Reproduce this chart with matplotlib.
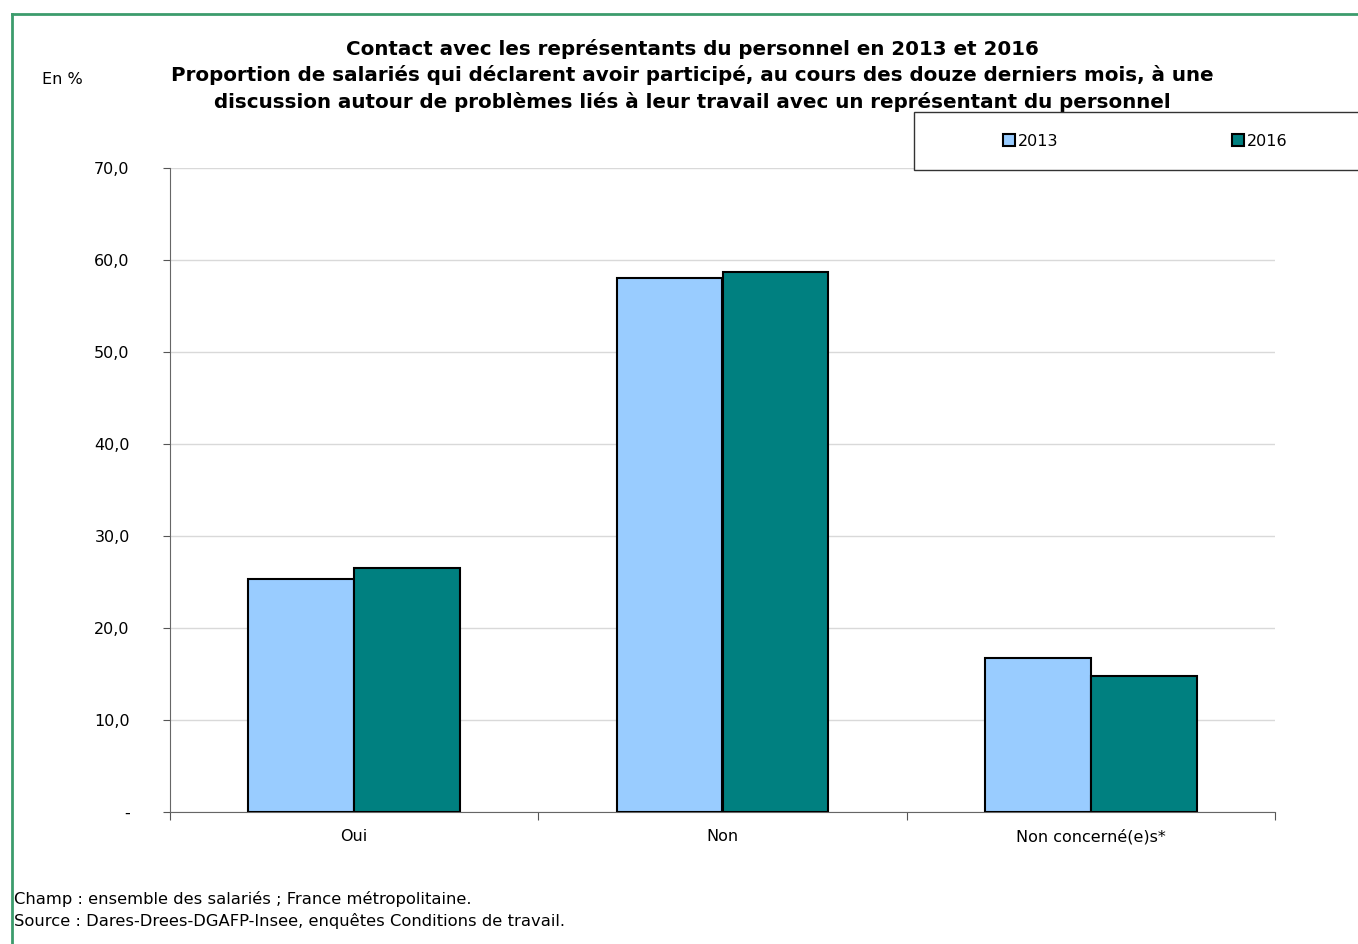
import numpy as np
import matplotlib
matplotlib.use("Agg")
import matplotlib.pyplot as plt
from matplotlib.patches import Rectangle
from matplotlib.lines import Line2D

categories = ["Oui", "Non", "Non concerné(e)s*"]
years = ["2013", "2016"]
values_2013 = [25.3, 58.0, 16.7]
values_2016 = [26.5, 58.7, 14.8]
colors = ["#99ccff", "#008080"]
y_ticks = [0, 10, 20, 30, 40, 50, 60, 70]
y_labels = ["-", "10,0", "20,0", "30,0", "40,0", "50,0", "60,0", "70,0"]

title = ("Contact avec les représentants du personnel en 2013 et 2016\n"
         "Proportion de salariés qui déclarent avoir participé, au cours des douze derniers mois, à une\n"
         "discussion autour de problèmes liés à leur travail avec un représentant du personnel")
notes = ["Champ : ensemble des salariés ; France métropolitaine.",
         "Source : Dares-Drees-DGAFP-Insee, enquêtes Conditions de travail."]

W, H = 1358, 944
fig = plt.figure(figsize=(W / 100, H / 100), dpi=100)
plt.rcParams["font.family"] = ["DejaVu Sans"]

# green frame (cut off on the right and bottom)
green = "#3c9c6c"
fig.add_artist(Line2D([12 / W, 12 / W], [0, 1 - 14 / H], color=green, lw=2))
fig.add_artist(Line2D([12 / W, 1], [1 - 14 / H, 1 - 14 / H], color=green, lw=2))

ax = fig.add_axes([170 / W, (H - 812) / H, 1105 / W, 644 / H])
x = np.arange(len(categories))
w = 0.287
b1 = ax.bar(x - w / 2, values_2013, w, color=colors[0], edgecolor="black", linewidth=1.5, label=years[0], zorder=3)
b2 = ax.bar(x + w / 2, values_2016, w, color=colors[1], edgecolor="black", linewidth=1.5, label=years[1], zorder=3)

ax.set_xlim(-0.5, 2.5)
ax.set_ylim(0, 70)
ax.set_yticks(y_ticks)
ax.set_yticklabels(y_labels, fontsize=11.5)
ax.yaxis.grid(True, color="#d9d9d9", linewidth=1, zorder=0)
ax.set_xticks([-0.5, 0.5, 1.5, 2.5])
ax.set_xticklabels([])
ax.set_xticks(x, minor=True)
ax.set_xticklabels(categories, minor=True, fontsize=11.5)
ax.tick_params(axis="x", which="minor", length=0, pad=12)
ax.tick_params(axis="x", which="major", length=6, color="#555555")
ax.tick_params(axis="y", length=5, color="#555555", pad=24)
for side in ["top", "right"]:
    ax.spines[side].set_visible(False)
ax.spines["left"].set_color("#666666")
ax.spines["bottom"].set_color("#666666")

fig.text(692 / W, 1 - 39 / H, title, ha="center", va="top", fontsize=14.3,
         fontweight="bold", linespacing=1.4)
fig.text(42 / W, 1 - 80 / H, "En %", ha="left", va="center", fontsize=11.5)

# legend box (runs past the right edge)
fig.add_artist(Rectangle((914 / W, 1 - 170 / H), 500 / W, 58 / H, transform=fig.transFigure,
                         facecolor="white", edgecolor="#333333", linewidth=1, zorder=5))
leg = fig.legend(handles=[b1, b2], loc="center left", bbox_to_anchor=(989 / W, 1 - 141 / H),
                 ncol=2, frameon=False, fontsize=11.5, handlelength=0.7, handleheight=0.7,
                 handletextpad=0.2, columnspacing=10.9)
leg.set_zorder(6)

for i, t in enumerate(notes):
    fig.text(14 / W, 1 - (899 + 22 * i) / H, t, ha="left", va="center", fontsize=11.8)

fig.savefig("out.png", dpi=100)
